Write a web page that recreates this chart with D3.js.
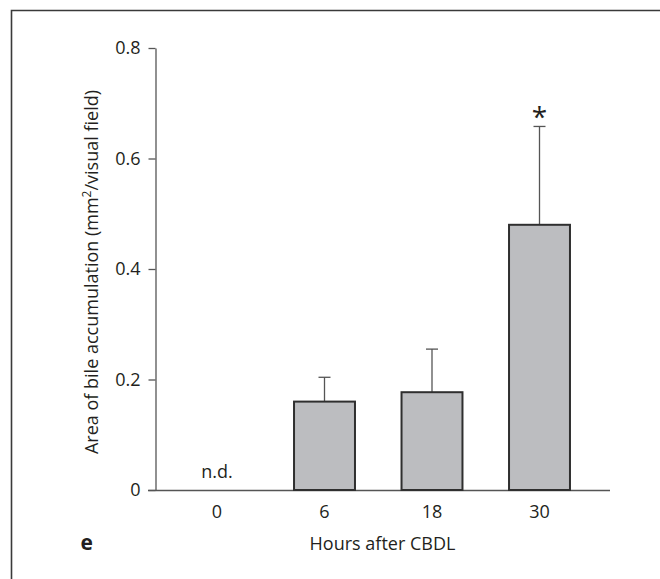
<!DOCTYPE html>
<html>
<head>
<meta charset="utf-8">
<script src="https://cdn.jsdelivr.net/npm/d3@7"></script>
<style>
  html, body { margin: 0; padding: 0; background: #fff; }
  svg { display: block; }
  text { font-family: "Open Sans", "Noto Sans", sans-serif; fill: #231f20; }
</style>
</head>
<body>
<svg id="chart" width="660" height="579"></svg>
<script>
const categories = ["0", "6", "18", "30"];
const means = [0, 0.16, 0.177, 0.48];
const errors = [0, 0.044, 0.078, 0.178];
const shown = [false, true, true, true];
const annotations = ["n.d.", "", "", "*"];
const yTicks = [0, 0.2, 0.4, 0.6, 0.8];
const yTickLabels = ["0", "0.2", "0.4", "0.6", "0.8"];
const xTitle = "Hours after CBDL";
const panelLetter = "e";

const svg = d3.select("#chart");

// frame
svg.append("path")
  .attr("d", "M11.5,579 V10.5 H660")
  .attr("fill", "none").attr("stroke", "#3a3a3a").attr("stroke-width", 1.6);

const x = d3.scaleBand().domain(categories).range([163.25, 593.25]).paddingInner(0.433).paddingOuter(0.2165);
const y = d3.scaleLinear().domain([0, 0.8]).range([490, 48]);

const axisColor = "#555";
const fs = 18;

// y axis
const yAxis = svg.append("g").attr("transform", "translate(155.5,0)")
  .call(d3.axisLeft(y).tickValues(yTicks).tickFormat((d, i) => yTickLabels[i]).tickSize(7).tickSizeOuter(0).tickPadding(8));
yAxis.select(".domain").attr("stroke", axisColor).attr("stroke-width", 1.3);
yAxis.selectAll(".tick line").attr("stroke", axisColor).attr("stroke-width", 1.3);
yAxis.selectAll(".tick text").attr("font-size", fs).attr("fill", "#231f20")
  .style("font-family", '"Open Sans", sans-serif');

// x axis baseline
svg.append("line")
  .attr("x1", 148).attr("x2", 610)
  .attr("y1", y(0) + 0.5).attr("y2", y(0) + 0.5)
  .attr("stroke", axisColor).attr("stroke-width", 1.3);

const xAxis = svg.append("g").attr("transform", `translate(0,${y(0)})`)
  .call(d3.axisBottom(x).tickSize(0).tickPadding(15));
xAxis.select(".domain").remove();
xAxis.selectAll(".tick text").attr("font-size", fs).attr("fill", "#231f20")
  .style("font-family", '"Open Sans", sans-serif');

const data = categories.map((c, i) => ({ c, m: means[i], e: errors[i], s: shown[i], a: annotations[i] }));

// error bars
const eb = svg.append("g").selectAll("g").data(data.filter(d => d.s)).join("g");
eb.append("line")
  .attr("x1", d => x(d.c) + x.bandwidth() / 2).attr("x2", d => x(d.c) + x.bandwidth() / 2)
  .attr("y1", d => y(d.m)).attr("y2", d => y(d.m + d.e))
  .attr("stroke", "#555").attr("stroke-width", 1.3);
eb.append("line")
  .attr("x1", d => x(d.c) + x.bandwidth() / 2 - 6).attr("x2", d => x(d.c) + x.bandwidth() / 2 + 6)
  .attr("y1", d => y(d.m + d.e)).attr("y2", d => y(d.m + d.e))
  .attr("stroke", "#555").attr("stroke-width", 1.3);

// bars
svg.append("g").selectAll("rect").data(data.filter(d => d.s)).join("rect")
  .attr("x", d => x(d.c)).attr("width", x.bandwidth())
  .attr("y", d => y(d.m)).attr("height", d => y(0) - y(d.m))
  .attr("fill", "#bcbdc0").attr("stroke", "#2f2f2f").attr("stroke-width", 2);

// annotations
svg.append("g").selectAll("text").data(data.filter(d => d.a)).join("text")
  .attr("x", d => x(d.c) + x.bandwidth() / 2)
  .attr("y", d => d.s ? y(d.m + d.e) + 1 : y(0) - 12.5)
  .attr("text-anchor", "middle")
  .attr("font-size", d => d.a === "*" ? 28 : fs)
  .text(d => d.a);

// axis titles
svg.append("text")
  .attr("x", 382.5).attr("y", 550)
  .attr("text-anchor", "middle").attr("font-size", fs)
  .text(xTitle);

const yt = svg.append("text")
  .attr("transform", "translate(97.5,272) rotate(-90)")
  .attr("text-anchor", "middle").attr("font-size", fs);
yt.append("tspan").text("Area of bile accumulation (mm");
yt.append("tspan").attr("font-size", 12).attr("dy", -7).text("2");
yt.append("tspan").attr("dy", 7).text("/visual field)");

svg.append("text")
  .attr("x", 86.7).attr("y", 550)
  .attr("text-anchor", "middle").attr("font-size", 21).attr("font-weight", "bold")
  .text(panelLetter);
</script>
</body>
</html>
